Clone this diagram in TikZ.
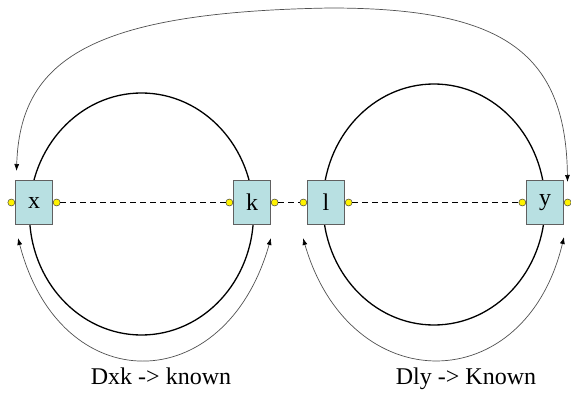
\documentclass[tikz,border=0pt]{standalone}
\usepackage{fontspec}
\setmainfont{Liberation Serif}
\usetikzlibrary{arrows.meta}
\definecolor{boxfill}{RGB}{184,224,226}
\definecolor{boxline}{RGB}{96,96,96}
\definecolor{arcline}{RGB}{80,80,80}
\tikzset{
  varbox/.style={draw=boxline, fill=boxfill, line width=0.8pt, minimum width=37pt, minimum height=44pt, inner sep=0pt, font=\fontsize{24}{28}\selectfont},
  port/.style={circle, draw=black!75, fill=yellow, line width=0.5pt, minimum size=7pt, inner sep=0pt},
  link/.style={dash pattern=on 6pt off 4pt, line width=1.2pt},
  ring/.style={line width=1.3pt},
  loop/.style={draw=arcline, line width=0.7pt, {Latex[length=7pt,width=5pt,black]}-{Latex[length=7pt,width=5pt,black]}},
  caption/.style={anchor=base, font=\fontsize{24}{28}\selectfont}
}
\begin{document}
\begin{tikzpicture}[x=1pt,y=-1pt]
\useasboundingbox (0,0) rectangle (571,396);
% rings
\draw[ring] (141.5,214) ellipse [x radius=112, y radius=121];
\draw[ring] (434,204.5) ellipse [x radius=111, y radius=120.5];
% boxes
\node[varbox] (x) at (34,202.5) {x};
\node[varbox] (k) at (252,202.5) {k};
\node[varbox] (l) at (326,202.5) {l};
\node[varbox] (y) at (545,202.5) {y};
% ports
\node[port, anchor=east] (xL) at (x.west) {};
\node[port, anchor=west] (xR) at (x.east) {};
\node[port, anchor=east] (kL) at (k.west) {};
\node[port, anchor=west] (kR) at (k.east) {};
\node[port, anchor=east] (lL) at (l.west) {};
\node[port, anchor=west] (lR) at (l.east) {};
\node[port, anchor=east] (yL) at (y.west) {};
\node[port, anchor=west] (yR) at (y.east) {};
% dashed links
\draw[link] (xR) -- (kL);
\draw[link] (kR) -- (lL);
\draw[link] (lR) -- (yL);
% arrow end points
\coordinate (topL) at (16.5,171);
\coordinate (topR) at (567.5,182);
\coordinate (loA) at (18,238);
\coordinate (loB) at (271,238);
\coordinate (loC) at (303,238);
\coordinate (loD) at (564,237);
% big top arrow
\draw[loop] (topL) .. controls (20,60) and (90,12) .. (330,8)
                   .. controls (500,8) and (566,50) .. (topR);
% lower loops
\draw[loop] (loA) .. controls (60,400) and (225,400) .. (loB);
\draw[loop] (loC) .. controls (350,400) and (525,400) .. (loD);
% captions
\node[caption] (c1) at (161,384) {Dxk -> known};
\node[caption] (c2) at (466,384) {Dly -> Known};
\end{tikzpicture}
\end{document}
